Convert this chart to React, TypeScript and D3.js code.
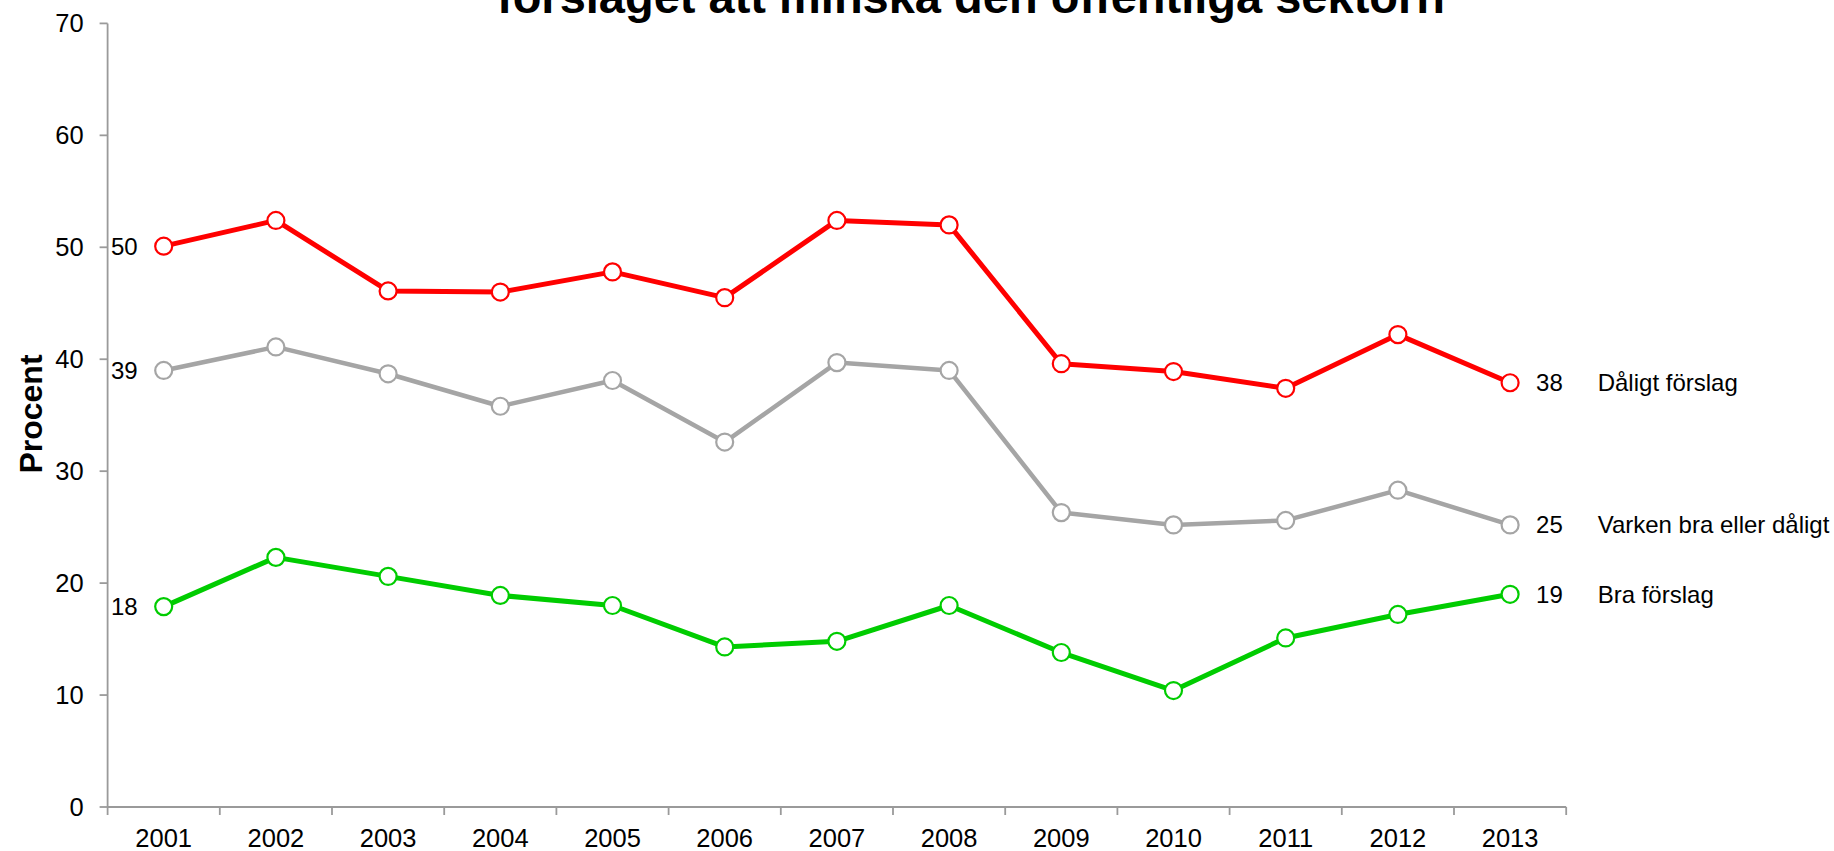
import React from "react";
import * as d3 from "d3";

const years = ["2001","2002","2003","2004","2005","2006","2007","2008","2009","2010","2011","2012","2013"];
const daligt = [50.1, 52.4, 46.1, 46.0, 47.8, 45.5, 52.4, 52.0, 39.6, 38.9, 37.4, 42.2, 37.9];
const varken = [39.0, 41.1, 38.7, 35.8, 38.1, 32.6, 39.7, 39.0, 26.3, 25.2, 25.6, 28.3, 25.2];
const bra = [17.9, 22.3, 20.6, 18.9, 18.0, 14.3, 14.8, 18.0, 13.8, 10.4, 15.1, 17.2, 19.0];
const yTicks = [0, 10, 20, 30, 40, 50, 60, 70];
const seriesNames = ["Dåligt förslag", "Varken bra eller dåligt", "Bra förslag"];
const title = "förslaget att minska den offentliga sektorn";
const yLabel = "Procent";

const FONT = "'Liberation Sans', Arial, sans-serif";

export default function App() {
  const W = 1834, H = 851;
  const left = 107.6, right = 1566.2, top = 23.4, bottom = 807;
  const x = d3.scaleBand<string>().domain(years).range([left, right]).padding(0);
  const y = d3.scaleLinear().domain([0, 70]).range([bottom, top]);
  const cx = (yr: string) => (x(yr) as number) + x.bandwidth() / 2;
  const line = d3.line<number>().x((_, i) => cx(years[i])).y((v) => y(v));

  const series = [
    { name: seriesNames[0], values: daligt, color: "#FF0000", width: 5 },
    { name: seriesNames[1], values: varken, color: "#A5A5A5", width: 4.5 },
    { name: seriesNames[2], values: bra, color: "#00CC00", width: 5 },
  ];
  const axisColor = "#9a9a9a";
  const first = years[0];
  const last = years[years.length - 1];

  return (
    <svg width={W} height={H} style={{ position: "absolute", left: 0, top: 0, background: "#fff" }} fontFamily={FONT}>
      <rect x={0} y={0} width={W} height={H} fill="#fff" />
      <text x={971} y={13} textAnchor="middle" fontSize={47} fontWeight="bold" fill="#000">{title}</text>
      {/* y axis */}
      <line x1={left} x2={left} y1={top} y2={bottom} stroke={axisColor} strokeWidth={1.8} />
      {yTicks.map((t) => (
        <g key={t}>
          <line x1={left - 8} x2={left} y1={y(t)} y2={y(t)} stroke={axisColor} strokeWidth={1.8} />
          <text x={left - 24} y={y(t)} dy="0.35em" textAnchor="end" fontSize={25.5} fill="#000">{t}</text>
        </g>
      ))}
      {/* x axis */}
      <line x1={left} x2={right} y1={bottom} y2={bottom} stroke={axisColor} strokeWidth={1.8} />
      {years.map((yr) => (
        <line key={"t" + yr} x1={x(yr) as number} x2={x(yr) as number} y1={bottom} y2={bottom + 8} stroke={axisColor} strokeWidth={1.8} />
      ))}
      <line x1={right} x2={right} y1={bottom} y2={bottom + 8} stroke={axisColor} strokeWidth={1.8} />
      {years.map((yr) => (
        <text key={"l" + yr} x={cx(yr)} y={847} textAnchor="middle" fontSize={25.5} fill="#000">{yr}</text>
      ))}
      <text transform={`translate(41.5,414) rotate(-90)`} textAnchor="middle" fontSize={32} fontWeight="bold" fill="#000">{yLabel}</text>
      {series.map((s) => (
        <g key={s.name}>
          <path d={line(s.values) as string} fill="none" stroke={s.color} strokeWidth={s.width} strokeLinejoin="round" />
          {s.values.map((v, i) => (
            <circle key={i} cx={cx(years[i])} cy={y(v)} r={8.5} fill="#fff" stroke={s.color} strokeWidth={2.2} />
          ))}
          <text x={cx(first) - 26} y={y(s.values[0])} dy="0.35em" textAnchor="end" fontSize={24} fill="#000">{Math.round(s.values[0])}</text>
          <text x={cx(last) + 26} y={y(s.values[s.values.length - 1])} dy="0.35em" textAnchor="start" fontSize={24} fill="#000">{Math.round(s.values[s.values.length - 1])}</text>
          <text x={1597.7} y={y(s.values[s.values.length - 1])} dy="0.35em" textAnchor="start" fontSize={24} fill="#000">{s.name}</text>
        </g>
      ))}
    </svg>
  );
}
